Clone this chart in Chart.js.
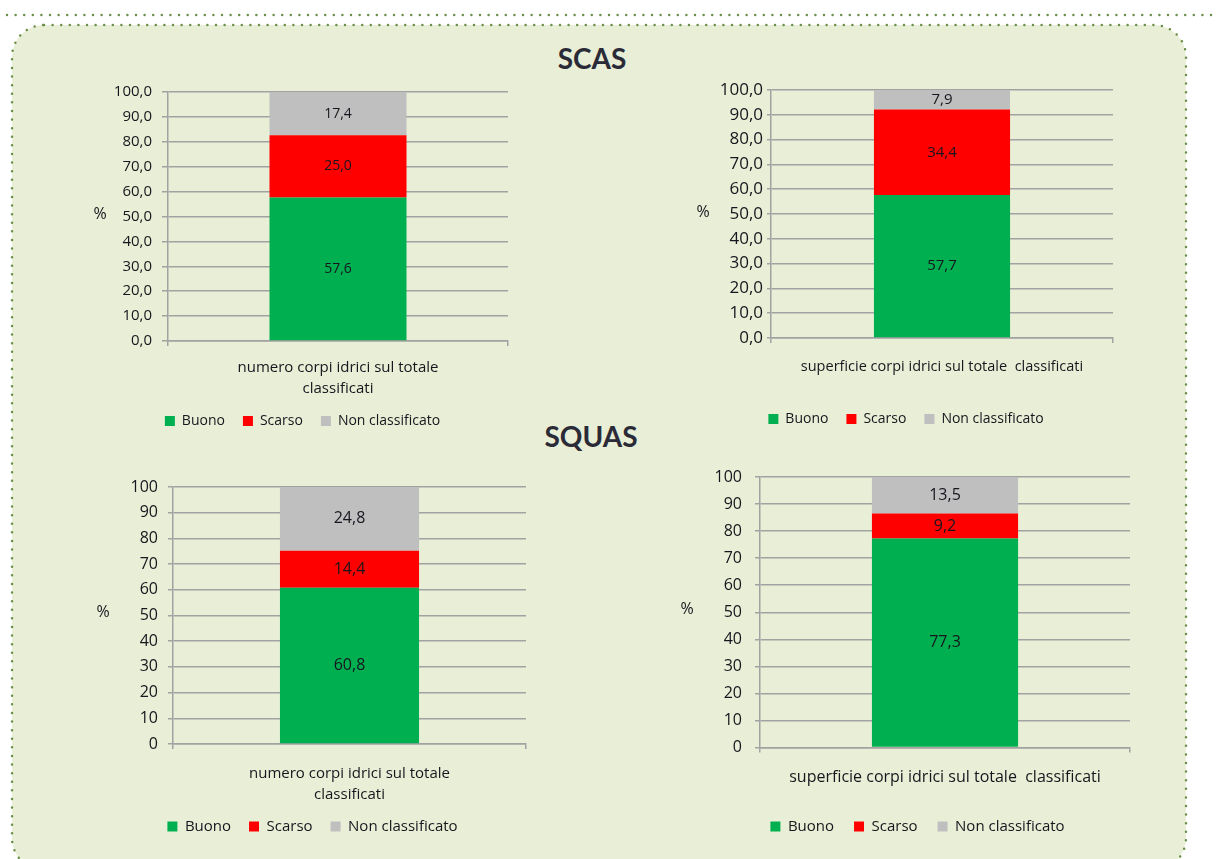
<!DOCTYPE html>
<html>
<head>
<meta charset="utf-8">
<script src="https://cdn.jsdelivr.net/npm/chart.js@4.4.1/dist/chart.umd.min.js"></script>
<style>
  html, body { margin: 0; padding: 0; background: #fff; width: 1216px; height: 859px; overflow: hidden; }
  #frame { position: absolute; left: 0; top: 0; }
  .box { position: absolute; }
  .heading { position: absolute; font-family: Lato, sans-serif; font-weight: bold; font-size: 28px; color: #2b2b38; transform: translateX(-50%); line-height: 1; }
</style>
</head>
<body>
<svg id="frame" width="1216" height="859">
  <line x1="7" y1="15" x2="1216" y2="15" stroke="#6b8f4a" stroke-width="2.5" stroke-dasharray="0 8.6" stroke-linecap="round"/>
  <rect x="12" y="25" width="1174" height="845" rx="32" fill="#e9efd6" stroke="#6b8f4a" stroke-width="2.5" stroke-dasharray="0 8.6" stroke-linecap="round"/>
</svg>

<div class="heading" style="left:592px; top:44px;">SCAS</div>
<div class="heading" style="left:591px; top:422px;">SQUAS</div>

<div class="box" style="left:88px; top:78px; width:422px; height:360px;"><canvas id="scasNumero"></canvas></div>
<div class="box" style="left:690px; top:78px; width:425px; height:358px;"><canvas id="scasSuperficie"></canvas></div>
<div class="box" style="left:90px; top:474px; width:438px; height:370px;"><canvas id="squasNumero"></canvas></div>
<div class="box" style="left:670px; top:464px; width:462px; height:380px;"><canvas id="squasSuperficie"></canvas></div>

<script>
// stato dei corpi idrici: percentuali per classe
const series = ['Buono', 'Scarso', 'Non classificato'];
const seriesColors = ['#00b050', '#ff0000', '#bfbfbf'];

const scasNumero = [57.6, 25.0, 17.4];
const scasSuperficie = [57.7, 34.4, 7.9];
const squasNumero = [60.8, 14.4, 24.8];
const squasSuperficie = [77.3, 9.2, 13.5];

const catNumero = ['numero corpi idrici sul totale', 'classificati'];
const catSuperficie = ['superficie corpi idrici sul totale  classificati'];

const yTickValues = [0, 10, 20, 30, 40, 50, 60, 70, 80, 90, 100];

const FONT = '"Open Sans", sans-serif';
const INK = '#16161e';
const GRID = '#a2a2a2';

function comma(v, digits) {
  return v.toFixed(digits).replace('.', ',');
}

// valori scritti al centro di ogni segmento
const barLabels = {
  id: 'barLabels',
  afterDatasetsDraw(chart, args, opts) {
    const ctx = chart.ctx;
    ctx.save();
    ctx.font = opts.size + 'px ' + FONT;
    ctx.fillStyle = INK;
    ctx.textAlign = 'center';
    ctx.textBaseline = 'middle';
    chart.data.datasets.forEach((ds, i) => {
      chart.getDatasetMeta(i).data.forEach((bar, j) => {
        ctx.fillText(comma(ds.data[j], 1), bar.x, (bar.y + bar.base) / 2);
      });
    });
    ctx.restore();
  }
};

// "%" orizzontale a sinistra dell'asse
const unitLabel = {
  id: 'unitLabel',
  afterDraw(chart, args, opts) {
    const { ctx, chartArea } = chart;
    ctx.save();
    ctx.font = opts.size + 'px ' + FONT;
    ctx.fillStyle = INK;
    ctx.textAlign = 'center';
    ctx.textBaseline = 'middle';
    ctx.fillText('%', opts.x, (chartArea.top + chartArea.bottom) / 2 + opts.dy);
    ctx.restore();
  }
};

function makeChart(id, category, values, o) {
  new Chart(document.getElementById(id), {
    type: 'bar',
    data: {
      labels: [category],
      datasets: series.map((name, i) => ({
        label: name,
        data: [values[i]],
        backgroundColor: seriesColors[i],
        borderColor: seriesColors[i],
        borderWidth: 0,
        barPercentage: o.bar,
        categoryPercentage: 1
      }))
    },
    options: {
      responsive: true,
      maintainAspectRatio: false,
      animation: false,
      events: [],
      layout: { padding: o.pad },
      scales: {
        x: {
          stacked: true,
          afterFit: s => { s.height = o.xHeight; },
          grid: { drawOnChartArea: false, offset: true, tickLength: 5, color: GRID, lineWidth: 1.5 },
          border: { display: true, color: GRID, width: 1.5 },
          ticks: { color: INK, padding: o.xPad, font: { family: FONT, size: o.xFont, lineHeight: 21 / o.xFont } }
        },
        y: {
          stacked: true,
          min: 0,
          max: 100,
          // larghezza fissa, e niente margine extra sopra l'etichetta 100
          afterFit: s => { s.width = o.yWidth; s.paddingTop = 0; s.paddingBottom = 0; },
          afterBuildTicks: s => { s.ticks = yTickValues.map(v => ({ value: v })); },
          grid: { color: GRID, lineWidth: 1.5, tickLength: o.tickLength },
          border: { display: true, color: GRID, width: 1.5 },
          ticks: {
            color: INK,
            padding: o.tickPad,
            font: { family: FONT, size: o.tickFont },
            callback: v => comma(v, o.decimals)
          }
        }
      },
      plugins: {
        legend: {
          position: 'bottom',
          labels: {
            color: INK,
            boxWidth: 10,
            boxHeight: 10,
            padding: o.legendPad,
            font: { family: FONT, size: o.legendFont }
          }
        },
        tooltip: { enabled: false },
        barLabels: { size: o.valueFont },
        unitLabel: { x: o.pctX, dy: o.pctDy, size: 16 }
      }
    },
    plugins: [barLabels, unitLabel]
  });
}

makeChart('scasNumero', catNumero, scasNumero, {
  decimals: 1, bar: 0.403,
  pad: { left: 9, top: 14, right: 2, bottom: 0 },
  yWidth: 71, xHeight: 55, xPad: 11.5, xFont: 15,
  tickLength: 6, tickPad: 10, tickFont: 15,
  legendFont: 14, legendPad: 18, valueFont: 14,
  pctX: 12, pctDy: -2
});

makeChart('scasSuperficie', catSuperficie, scasSuperficie, {
  decimals: 1, bar: 0.398,
  pad: { left: 9, top: 12, right: 2, bottom: 0 },
  yWidth: 72, xHeight: 56, xPad: 13.5, xFont: 14.5,
  tickLength: 4, tickPad: 4, tickFont: 17,
  legendFont: 14, legendPad: 18, valueFont: 15,
  pctX: 13, pctDy: -2
});

makeChart('squasNumero', catNumero, squasNumero, {
  decimals: 0, bar: 0.394,
  pad: { left: 9, top: 13, right: 2, bottom: 0 },
  yWidth: 74, xHeight: 57, xPad: 14, xFont: 15,
  tickLength: 5, tickPad: 10, tickFont: 16,
  legendFont: 15, legendPad: 18, valueFont: 16,
  pctX: 13, pctDy: -3
});

makeChart('squasSuperficie', catSuperficie, squasSuperficie, {
  decimals: 0, bar: 0.395,
  pad: { left: 35, top: 13, right: 2, bottom: 0 },
  yWidth: 55, xHeight: 51.5, xPad: 14, xFont: 16,
  tickLength: 5, tickPad: 13, tickFont: 16,
  legendFont: 15, legendPad: 20, valueFont: 16,
  pctX: 17, pctDy: -3
});
</script>
</body>
</html>
